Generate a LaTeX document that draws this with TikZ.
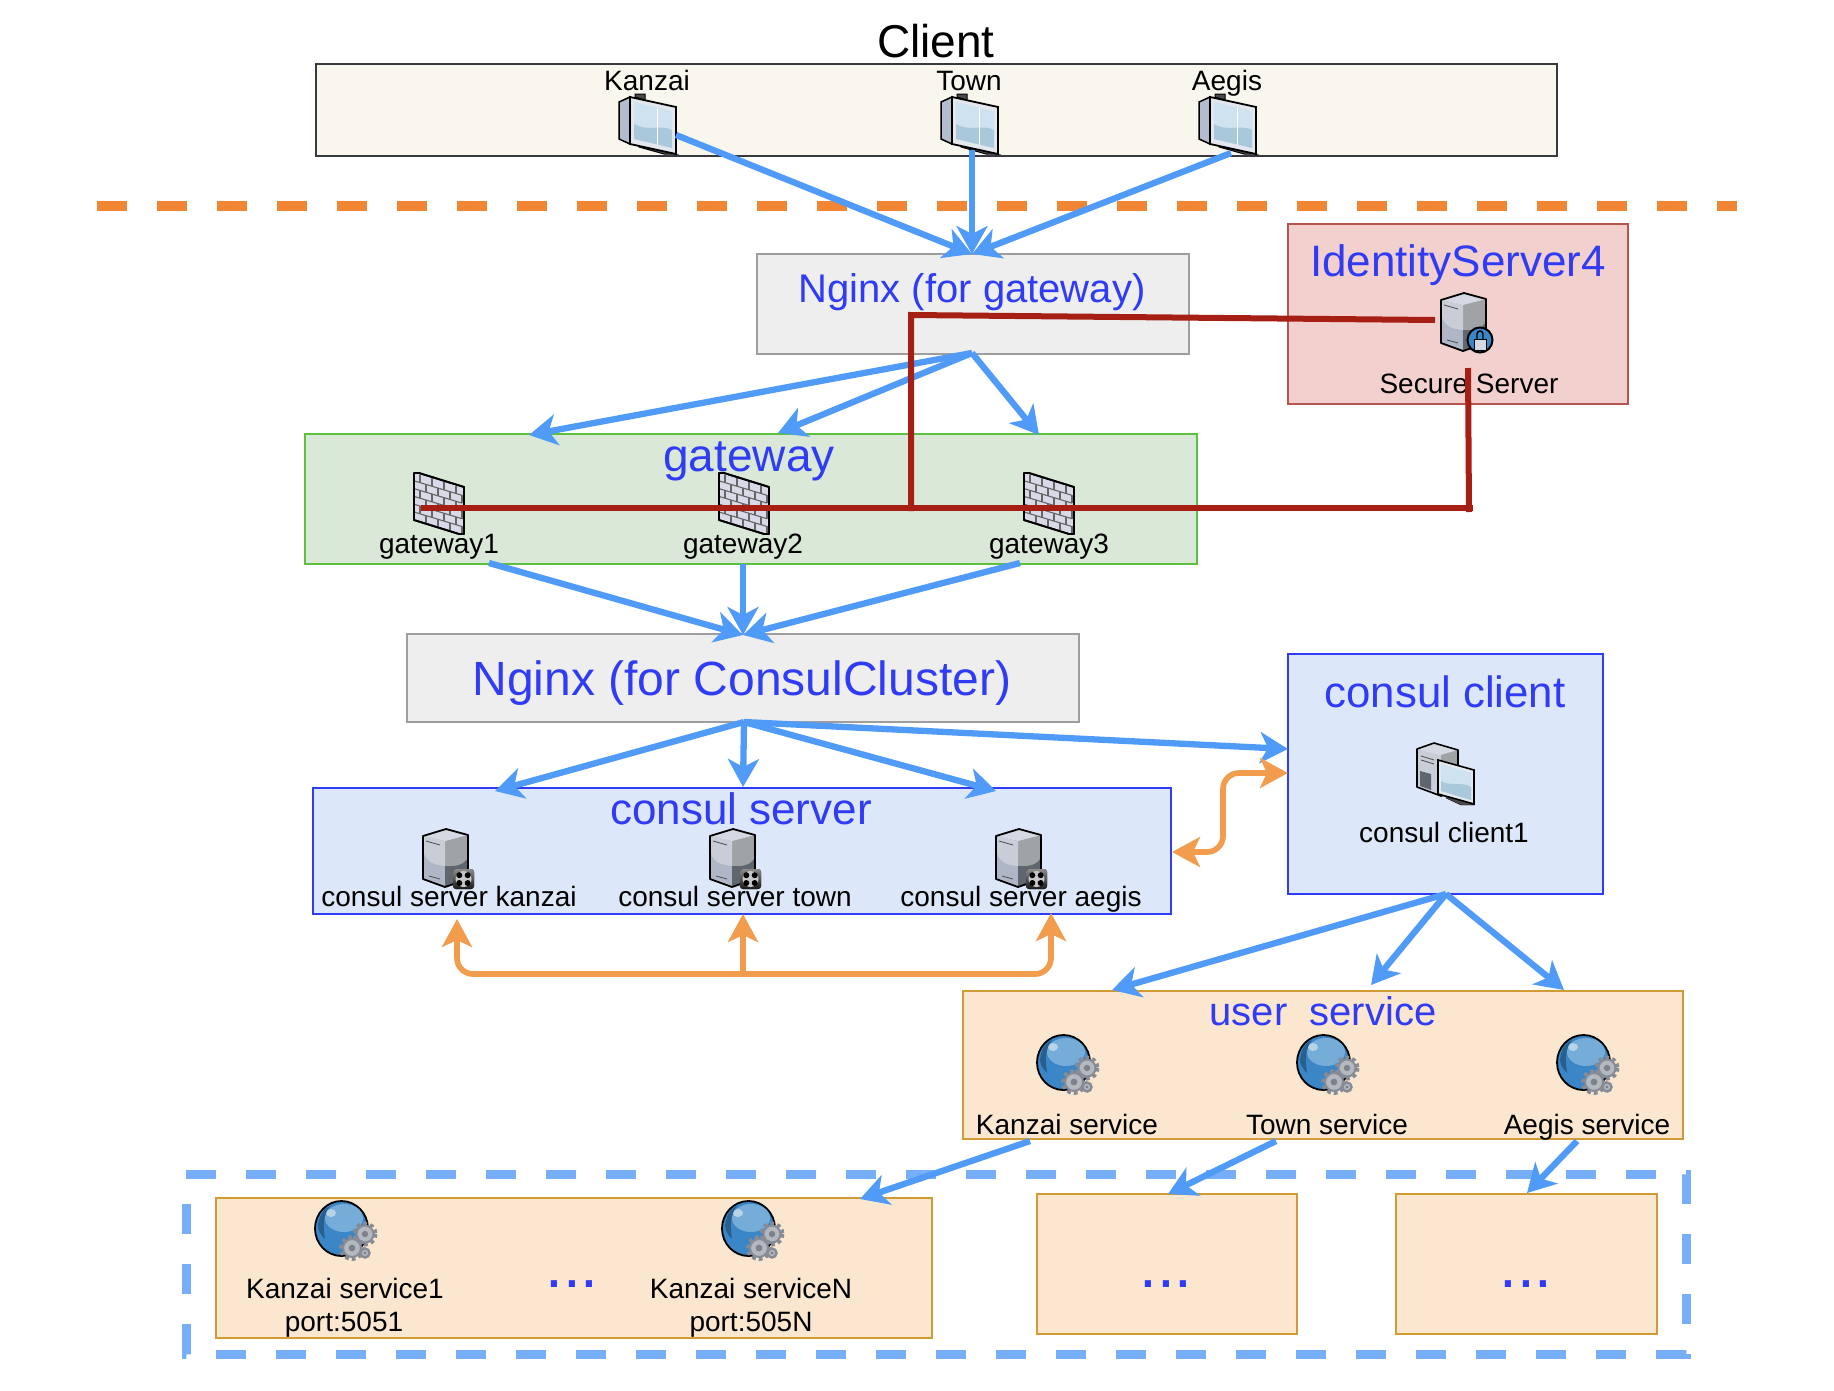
\documentclass[tikz,border=0pt]{standalone}
\usepackage{fontspec}
\setmainfont{Liberation Sans}
\usetikzlibrary{arrows.meta}
\definecolor{blueline}{HTML}{4F9BF7}
\definecolor{orangeline}{HTML}{F29D4D}
\definecolor{redline}{HTML}{A61F14}
\definecolor{sepline}{HTML}{F08533}
\definecolor{dashblue}{HTML}{76AFF7}
\definecolor{titleblue}{HTML}{2F3BF5}
\definecolor{gearc}{HTML}{868B95}
\definecolor{gearl}{HTML}{B4B8BF}
\definecolor{geard}{HTML}{7C818B}
\definecolor{fclient}{HTML}{F9F7ED}
\definecolor{dclient}{HTML}{36393D}
\definecolor{fgrey}{HTML}{EEEEEE}
\definecolor{dgrey}{HTML}{9E9E9E}
\definecolor{fred}{HTML}{F2D0CE}
\definecolor{dred}{HTML}{B85450}
\definecolor{fgreen}{HTML}{DAE8D8}
\definecolor{dgreen}{HTML}{5DC13F}
\definecolor{fblue}{HTML}{DCE7F9}
\definecolor{fpeach}{HTML}{FBE6CF}
\definecolor{dpeach}{HTML}{D29B35}
\definecolor{icback}{HTML}{B4BDCD}
\definecolor{icframe}{HTML}{E4E8EE}
\definecolor{icscreen}{HTML}{CFE2EF}
\definecolor{icwave}{HTML}{A9C8DC}
\definecolor{srvtop}{HTML}{D4D9E3}
\definecolor{srvlu}{HTML}{C8CDD8}
\definecolor{srvll}{HTML}{AFB6C6}
\definecolor{srvru}{HTML}{9FA3A6}
\definecolor{srvrl}{HTML}{5F666E}
\definecolor{glbody}{HTML}{3A86C6}
\definecolor{glhigh}{HTML}{76ACD8}
\definecolor{gldark}{HTML}{27608F}
\definecolor{glglint}{HTML}{B8D2E6}
\definecolor{brick}{HTML}{D8DAE8}
\definecolor{lockblue}{HTML}{3A86C6}
\tikzset{
  box/.style={draw, rectangle, line width=2pt, inner sep=0pt, outer sep=0pt},
  lbl/.style={anchor=base, inner sep=0pt, text=black, font=\fontsize{28}{32}\selectfont},
  ttl/.style={anchor=base, inner sep=0pt, text=titleblue, font=\fontsize{#1}{#1}\selectfont},
  bluearr/.style={draw=blueline, line width=6.3pt, -{Stealth[length=28pt,width=31pt,inset=8pt,fill=blueline]}},
  orgarr/.style={draw=orangeline, line width=5.7pt, rounded corners=16pt},
  redl/.style={draw=redline, line width=6pt},
  tipo/.style={-{Stealth[length=28pt,width=30pt,inset=7pt,fill=orangeline]}},
  tipoo/.style={{Stealth[length=28pt,width=30pt,inset=7pt,fill=orangeline]}-{Stealth[length=28pt,width=30pt,inset=7pt,fill=orangeline]}},
  monitor/.pic={
    \filldraw[fill=black!70,draw=black,line width=1pt] (16,0) -- (26,0) -- (26,6) -- (16,3) -- cycle;
    \filldraw[fill=black!70,draw=black,line width=1pt] (20,48) -- (57,60) -- (45,60) -- (20,53) -- cycle;
    \filldraw[fill=icback,draw=black,line width=1.5pt] (0,8) -- (11,3) -- (11,50) -- (0,45) -- cycle;
    \filldraw[fill=icframe,draw=black,line width=1.8pt] (11,3) -- (57,13) -- (57,60) -- (11,50) -- cycle;
    \fill[fill=icscreen] (15,8) -- (53,17) -- (53,54) -- (15,45) -- cycle;
    \fill[fill=icwave] (15,30) .. controls (28,38) and (42,30) .. (53,36) -- (53,54) -- (15,45) -- cycle;
    \draw[white,line width=.8pt] (38,14) -- (38,51);
  },
  servercore/.pic={
    \fill[fill=srvru] (0,7) -- (23,0) -- (45,6) -- (45,50) -- (22,58) -- (0,50) -- cycle;
    \fill[fill=srvlu] (0,7) -- (22,12) -- (22,37) .. controls (10,37) and (2,32) .. (0,22) -- cycle;
    \fill[fill=srvtop] (0,7) -- (23,0) -- (45,6) -- (22,12) -- cycle;
    \fill[fill=srvll] (0,22) .. controls (2,32) and (10,37) .. (22,37) -- (22,58) -- (0,50) -- cycle;
    \fill[fill=srvrl] (22,37) .. controls (32,38) and (42,36) .. (45,28) -- (45,50) -- (22,58) -- cycle;
    \draw[black,line width=1.8pt,line join=round] (0,7) -- (23,0) -- (45,6) -- (45,50) -- (22,58) -- (0,50) -- cycle;
    \draw[black!70,line width=.8pt] (3,12) -- (17,16);
    \draw[black!70,line width=.8pt] (6,47) -- (17,50);
  },
  secure/.pic={
    \pic {servercore};
    \filldraw[fill=lockblue,draw=black,line width=2pt] (39,47) circle (12.5);
    \filldraw[fill=srvtop,draw=black,line width=1pt] (33,46) rectangle (45,57);
    \draw[black,line width=1.4pt] (36,46) -- (36,41) arc[start angle=180,end angle=0,x radius=3,y radius=-3] -- (42,46);
  },
  consulsrv/.pic={
    \pic {servercore};
    \fill[top color=black!45,bottom color=black!90,rounded corners=3pt] (30,40) rectangle (51,60);
    \fill[black!22] (40.5,50) circle (8);
    \fill[black] (36.3,46.2) circle (3) (44.7,46.2) circle (3) (36.3,54) circle (3) (44.7,54) circle (3);
  },
  clientpc/.pic={
    \fill[fill=srvtop] (0,6) -- (17,0) -- (41,7) -- (24,12) -- cycle;
    \fill[fill=srvlu] (0,6) -- (24,12) -- (24,53) -- (0,44) -- cycle;
    \fill[fill=srvrl] (3,28) -- (14,31) -- (14,47) -- (3,43) -- cycle;
    \fill[fill=srvru] (24,12) -- (41,7) -- (41,48) -- (24,53) -- cycle;
    \draw[black,line width=1.6pt,line join=round] (0,6) -- (17,0) -- (41,7) -- (41,48) -- (24,53) -- (0,44) -- cycle;
    \draw[black!70,line width=.8pt] (4,13) -- (17,17) (4,17) -- (17,21);
    \filldraw[fill=black!70,draw=black] (29,50) -- (57,62) -- (44,62) -- (29,55) -- cycle;
    \filldraw[fill=icframe,draw=black,line width=1.6pt] (21,17) -- (57,27) -- (57,61) -- (21,51) -- cycle;
    \fill[fill=icscreen] (24,21) -- (54,30) -- (54,57) -- (24,48) -- cycle;
    \fill[fill=icwave] (24,38) .. controls (34,44) and (44,38) .. (54,44) -- (54,57) -- (24,48) -- cycle;
  },
  firewall/.pic={
    \filldraw[fill=brick,draw=black,line width=1.8pt,line join=round] (0,0) -- (5,0) -- (50,14) -- (50,61) -- (45,61) -- (0,47) -- cycle;
    \foreach \r in {1,...,5}{
      \draw[black!60,line width=1.1pt] (0,{\r*7.8}) -- (48,{\r*7.8+14.5});
    }
    \foreach \r in {0,...,5}{
      \foreach \c in {0,1,2,3}{
        \pgfmathsetmacro\xx{6+\c*12+mod(\r,2)*6}
        \pgfmathsetmacro\yy{\r*7.8+\xx*0.3}
        \draw[black!60,line width=1.1pt] (\xx,\yy) -- (\xx,\yy+7.8);
      }
    }
    \draw[black,line width=1.8pt,line join=round] (0,0) -- (5,0) -- (50,14) -- (50,61) -- (45,61) -- (0,47) -- cycle;
  },
  geartooth/.style={gearc,line width=4pt,dash pattern=on 3.6pt off 3.2pt},
  globe/.pic={
    \filldraw[fill=glbody,draw=black,line width=1.8pt] (26.5,27.5) ellipse (26.5 and 27.5);
    \fill[fill=glhigh] (29,17) ellipse (19 and 14);
    \fill[glglint] (16,12) ellipse (5 and 4);
    \fill[gldark] (3,24) .. controls (5,10) and (12,6) .. (15,5) .. controls (8,14) and (8,24) .. (10,38) .. controls (6,34) and (3,30) .. cycle;
    \draw[geartooth] (50,33) circle (10.5);
    \filldraw[fill=gearl,draw=gearc,line width=2pt] (50,33) circle (8.5);
    \fill[geard] (50,33) circle (3.2);
    \draw[geartooth] (37,47) circle (11);
    \filldraw[fill=gearl,draw=gearc,line width=2pt] (37,47) circle (9);
    \fill[geard] (37,47) circle (3.4);
    \filldraw[fill=gearl,draw=gearc,line width=2.4pt] (50,52) circle (4.5);
    \fill[geard] (50,52) circle (1.6);
  }
}
\begin{document}
\begin{tikzpicture}[x=1pt,y=-1pt]
\useasboundingbox (0,0) rectangle (1834,1390);

% containers
\node[box,fill=fclient,draw=dclient,minimum width=1241pt,minimum height=92pt] (client) at (936.5,110) {};
\node[box,fill=fgrey,draw=dgrey,minimum width=432pt,minimum height=100pt] (nginxg) at (973,304) {};
\node[box,fill=fred,draw=dred,minimum width=340pt,minimum height=180pt] (ids) at (1458,314) {};
\node[box,fill=fgreen,draw=dgreen,minimum width=892pt,minimum height=130pt] (gw) at (751,499) {};
\node[box,fill=fgrey,draw=dgrey,minimum width=672pt,minimum height=88pt] (nginxc) at (743,678) {};
\node[box,fill=fblue,draw=titleblue,minimum width=315pt,minimum height=240pt] (cc) at (1445.5,774) {};
\node[box,fill=fblue,draw=titleblue,minimum width=858pt,minimum height=126pt] (cs) at (742,851) {};
\node[box,fill=fpeach,draw=dpeach,minimum width=720pt,minimum height=148pt] (us) at (1323,1065) {};
\node[box,fill=fpeach,draw=dpeach,minimum width=716pt,minimum height=140pt] (k1) at (574,1268) {};
\node[box,fill=fpeach,draw=dpeach,minimum width=260pt,minimum height=140pt] (k2) at (1167,1264) {};
\node[box,fill=fpeach,draw=dpeach,minimum width=261pt,minimum height=140pt] (k3) at (1526.5,1264) {};

% separators and dashed group
\coordinate (sepL) at (97,206);
\coordinate (sepR) at (1737,206);
\draw[sepline,line width=10pt,dash pattern=on 30pt off 30pt] (sepL) -- (sepR);
\coordinate (dTL) at (186,1174);
\coordinate (dTR) at (1686,1174);
\coordinate (dBR) at (1686,1354);
\coordinate (dBL) at (186,1354);
\draw[dashblue,line width=9pt,dash pattern=on 30pt off 30pt] (dTL) -- (dTR) -- (dBR) -- (dBL) -- cycle;

% icons
\pic at (619,94) {monitor};
\pic at (941,94) {monitor};
\pic at (1199,94) {monitor};
\pic at (1441,293) {secure};
\pic at (414,473) {firewall};
\pic at (719,473) {firewall};
\pic at (1024,473) {firewall};
\pic at (423,829) {consulsrv};
\pic at (710,829) {consulsrv};
\pic at (996,829) {consulsrv};
\pic at (1417,743) {clientpc};
\pic at (1037,1035) {globe};
\pic at (1297,1035) {globe};
\pic at (1557,1035) {globe};
\pic at (315,1201) {globe};
\pic at (722,1201) {globe};

% texts
\node[anchor=base,inner sep=0pt,font=\fontsize{46}{46}\selectfont] (tclient) at (936,57) {Client};
\node[lbl] (tkan) at (647,90) {Kanzai};
\node[lbl] (ttown) at (969,90) {Town};
\node[lbl] (taeg) at (1227,90) {Aegis};
\node[ttl=40] (tng) at (972,302) {Nginx (for gateway)};
\node[ttl=44] (tids) at (1458,276) {IdentityServer4};
\node[lbl] (tsec) at (1469,393) {Secure Server};
\node[ttl=46] (tgw) at (749,471) {gateway};
\node[lbl] (tg1) at (439,553) {gateway1};
\node[lbl] (tg2) at (743,553) {gateway2};
\node[lbl] (tg3) at (1049,553) {gateway3};
\node[ttl=48] (tnc) at (742,695) {Nginx (for ConsulCluster)};
\node[ttl=43.8] (tcc) at (1445,707) {consul client};
\node[lbl] (tcc1) at (1444,842) {consul client1};
\node[ttl=44] (tcs) at (741,824) {consul server};
\node[lbl] (tcsk) at (449,906) {consul server kanzai};
\node[lbl] (tcst) at (735,906) {consul server town};
\node[lbl] (tcsa) at (1021,906) {consul server aegis};
\node[ttl=40] (tus) at (1323,1025) {user\ \ service};
\node[lbl] (tus1) at (1067,1134) {Kanzai service};
\node[lbl] (tus2) at (1327,1134) {Town service};
\node[lbl] (tus3) at (1587,1134) {Aegis service};
\node[lbl] (tk1) at (345,1298) {Kanzai service1};
\node[lbl] (tk1p) at (344,1331) {port:5051};
\node[lbl] (tkn) at (751,1298) {Kanzai serviceN};
\node[lbl] (tknp) at (751,1331) {port:505N};
\node[ttl=64] (td1) at (572,1287) {...};
\node[ttl=64] (td2) at (1166,1287) {...};
\node[ttl=64] (td3) at (1526,1287) {...};

% blue connectors
\coordinate (c1) at (676,135);
\coordinate (c2) at (972,150);
\coordinate (c3) at (1231,153);
\coordinate (ngIn) at (972,254);
\draw[bluearr] (c1) -- (ngIn);
\draw[bluearr] (c2) -- (ngIn);
\draw[bluearr] (c3) -- (ngIn);
\coordinate (ngOut) at (972,353);
\coordinate (gwa) at (529,435);
\coordinate (gwb) at (778,433);
\coordinate (gwc) at (1039,435);
\draw[bluearr] (ngOut) -- (gwa);
\draw[bluearr] (ngOut) -- (gwb);
\draw[bluearr] (ngOut) -- (gwc);
\coordinate (g1) at (489,563);
\coordinate (g2) at (743,564);
\coordinate (g3) at (1020,563);
\coordinate (ncIn) at (743,635);
\draw[bluearr] (g1) -- (ncIn);
\draw[bluearr] (g2) -- (ncIn);
\draw[bluearr] (g3) -- (ncIn);
\coordinate (ncOut) at (744,722);
\coordinate (csa) at (495,791);
\coordinate (csb) at (743,787);
\coordinate (csc) at (996,791);
\coordinate (cca) at (1288,749);
\draw[bluearr] (ncOut) -- (csa);
\draw[bluearr] (ncOut) -- (csb);
\draw[bluearr] (ncOut) -- (csc);
\draw[bluearr] (ncOut) -- (cca);
\coordinate (ccOut) at (1446,894);
\coordinate (usa) at (1112,990);
\coordinate (usb) at (1371,985);
\coordinate (usc) at (1564,990);
\draw[bluearr] (ccOut) -- (usa);
\draw[bluearr] (ccOut) -- (usb);
\draw[bluearr] (ccOut) -- (usc);
\coordinate (u1) at (1030,1141);
\coordinate (u2) at (1276,1141);
\coordinate (u3) at (1577,1141);
\coordinate (ka) at (860,1199);
\coordinate (kb) at (1168,1194);
\coordinate (kc) at (1527,1193);
\draw[bluearr] (u1) -- (ka);
\draw[bluearr] (u2) -- (kb);
\draw[bluearr] (u3) -- (kc);

% orange connectors
\coordinate (oL) at (457,919);
\coordinate (oLb) at (457,974);
\coordinate (oM) at (743,914);
\coordinate (oMb) at (743,974);
\coordinate (oR) at (1051,913);
\coordinate (oRb) at (1051,974);
\draw[orgarr,tipoo] (oL) -- (oLb) -- (oRb) -- (oR);
\draw[orgarr,tipo] (oMb) -- (oM);
\coordinate (oA) at (1172,852);
\coordinate (oAm) at (1223,852);
\coordinate (oBm) at (1223,773);
\coordinate (oB) at (1288,773);
\draw[orgarr,tipoo] (oA) -- (oAm) -- (oBm) -- (oB);

% red connectors
\coordinate (rA) at (1435,320);
\coordinate (rB) at (911,315);
\coordinate (rC) at (911,511);
\coordinate (rD) at (421,508);
\coordinate (rE) at (1473,508);
\coordinate (rF) at (1468,368);
\coordinate (rG) at (1469,512);
\draw[redl] (rA) -- (rB) -- (rC);
\draw[redl] (rD) -- (rE);
\draw[redl] (rF) -- (rG);
\end{tikzpicture}
\end{document}
